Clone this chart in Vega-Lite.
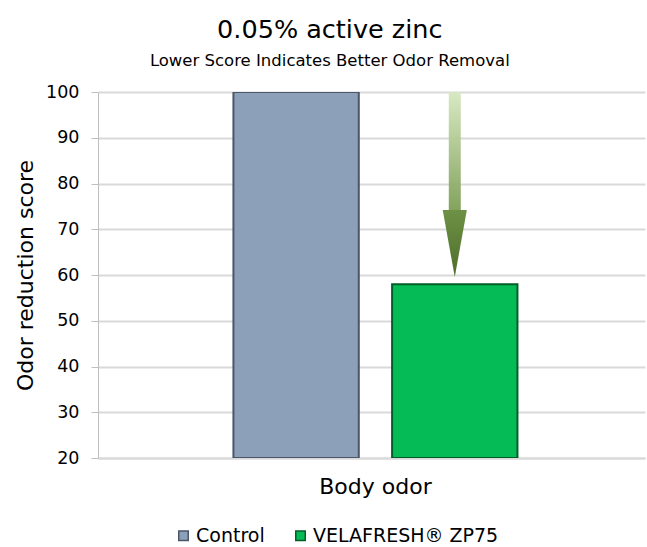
{
  "$schema": "https://vega.github.io/schema/vega-lite/v6.json",
  "width": 547,
  "height": 366,
  "autosize": {"type": "none"},
  "padding": {"left": 98, "top": 92, "right": 2, "bottom": 89},
  "background": "white",
  "config": {
    "font": "DejaVu Sans",
    "view": {"stroke": null}
  },
  "title": {
    "text": "0.05% active zinc",
    "subtitle": "Lower Score Indicates Better Odor Removal",
    "fontSize": 25.5,
    "fontWeight": "normal",
    "color": "#000000",
    "subtitleFontSize": 16.5,
    "subtitleColor": "#000000",
    "subtitlePadding": 9,
    "offset": 14,
    "anchor": "middle",
    "frame": "bounds",
    "font": "DejaVu Sans",
    "subtitleFont": "DejaVu Sans"
  },
  "layer": [
    {
      "data": {
        "values": [
          {"category": "Body odor", "series": "Control", "score": 100},
          {"category": "Body odor", "series": "VELAFRESH® ZP75", "score": 58}
        ]
      },
      "mark": {"type": "bar", "strokeWidth": 2, "clip": true},
      "encoding": {
        "x": {
          "field": "category",
          "type": "nominal",
          "scale": {"paddingOuter": 0.463, "paddingInner": 0, "align": 0.515},
          "axis": {
            "title": null,
            "labelAngle": 0,
            "labelFontSize": 22,
            "labelColor": "#000000",
            "labelPadding": 18,
            "ticks": false,
            "domainColor": "#d9d9d9",
            "domainWidth": 2
          }
        },
        "xOffset": {
          "field": "series",
          "type": "nominal",
          "scale": {"paddingInner": 0.21, "paddingOuter": 0}
        },
        "y": {
          "field": "score",
          "type": "quantitative",
          "scale": {"domain": [20, 100], "zero": false, "nice": false},
          "axis": {
            "title": "Odor reduction score",
            "titleFontSize": 22,
            "titleFontWeight": "normal",
            "titleColor": "#000000",
            "titlePadding": 8,
            "values": [20, 30, 40, 50, 60, 70, 80, 90, 100],
            "labelFontSize": 17.5,
            "labelColor": "#000000",
            "labelPadding": 12,
            "tickSize": 7,
            "tickColor": "#bfbfbf",
            "domainColor": "#bfbfbf",
            "gridColor": "#d9d9d9",
            "gridWidth": 2
          }
        },
        "y2": {"datum": 20},
        "color": {
          "field": "series",
          "type": "nominal",
          "scale": {"domain": ["Control", "VELAFRESH® ZP75"], "range": ["#8ca0ba", "#05bb56"]},
          "legend": {
            "title": null,
            "orient": "none",
            "direction": "horizontal",
            "legendX": 76,
            "legendY": 434,
            "symbolType": "square",
            "symbolSize": 90,
            "symbolStrokeWidth": 1.5,
            "labelFontSize": 19,
            "labelLimit": 400,
            "labelColor": "#000000",
            "labelOffset": 3,
            "columnPadding": 26
          }
        },
        "stroke": {
          "field": "series",
          "type": "nominal",
          "scale": {"domain": ["Control", "VELAFRESH® ZP75"], "range": ["#4b5668", "#035d2a"]},
          "legend": {
            "title": null,
            "orient": "none",
            "direction": "horizontal",
            "legendX": 76,
            "legendY": 434,
            "symbolType": "square",
            "symbolSize": 90,
            "symbolStrokeWidth": 1.5,
            "labelFontSize": 19,
            "labelLimit": 400,
            "labelColor": "#000000",
            "labelOffset": 3,
            "columnPadding": 26
          }
        }
      }
    },
    {
      "data": {
        "values": [
          {"category": "Body odor", "series": "VELAFRESH® ZP75", "from": 100, "to": 73.5}
        ]
      },
      "mark": {
        "type": "bar",
        "width": 12,
        "fill": {
          "gradient": "linear",
          "x1": 0, "y1": 0, "x2": 0, "y2": 1,
          "stops": [
            {"offset": 0, "color": "#d6e8c0"},
            {"offset": 1, "color": "#7a9c52"}
          ]
        },
        "fillOpacity": 0.95
      },
      "encoding": {
        "x": {"field": "category", "type": "nominal"},
        "xOffset": {"field": "series", "type": "nominal"},
        "y": {"field": "from", "type": "quantitative"},
        "y2": {"field": "to"}
      }
    },
    {
      "data": {
        "values": [
          {"category": "Body odor", "series": "VELAFRESH® ZP75", "at": 66.9}
        ]
      },
      "mark": {
        "type": "point",
        "filled": true,
        "shape": "M-0.36,-1L0.36,-1L0,1Z",
        "size": 4489,
        "opacity": 1,
        "fill": {
          "gradient": "linear",
          "x1": 0, "y1": 0, "x2": 0, "y2": 1,
          "stops": [
            {"offset": 0, "color": "#6e9146"},
            {"offset": 1, "color": "#4d6d2a"}
          ]
        },
        "strokeWidth": 0
      },
      "encoding": {
        "x": {"field": "category", "type": "nominal"},
        "xOffset": {"field": "series", "type": "nominal"},
        "y": {"field": "at", "type": "quantitative"}
      }
    }
  ]
}
